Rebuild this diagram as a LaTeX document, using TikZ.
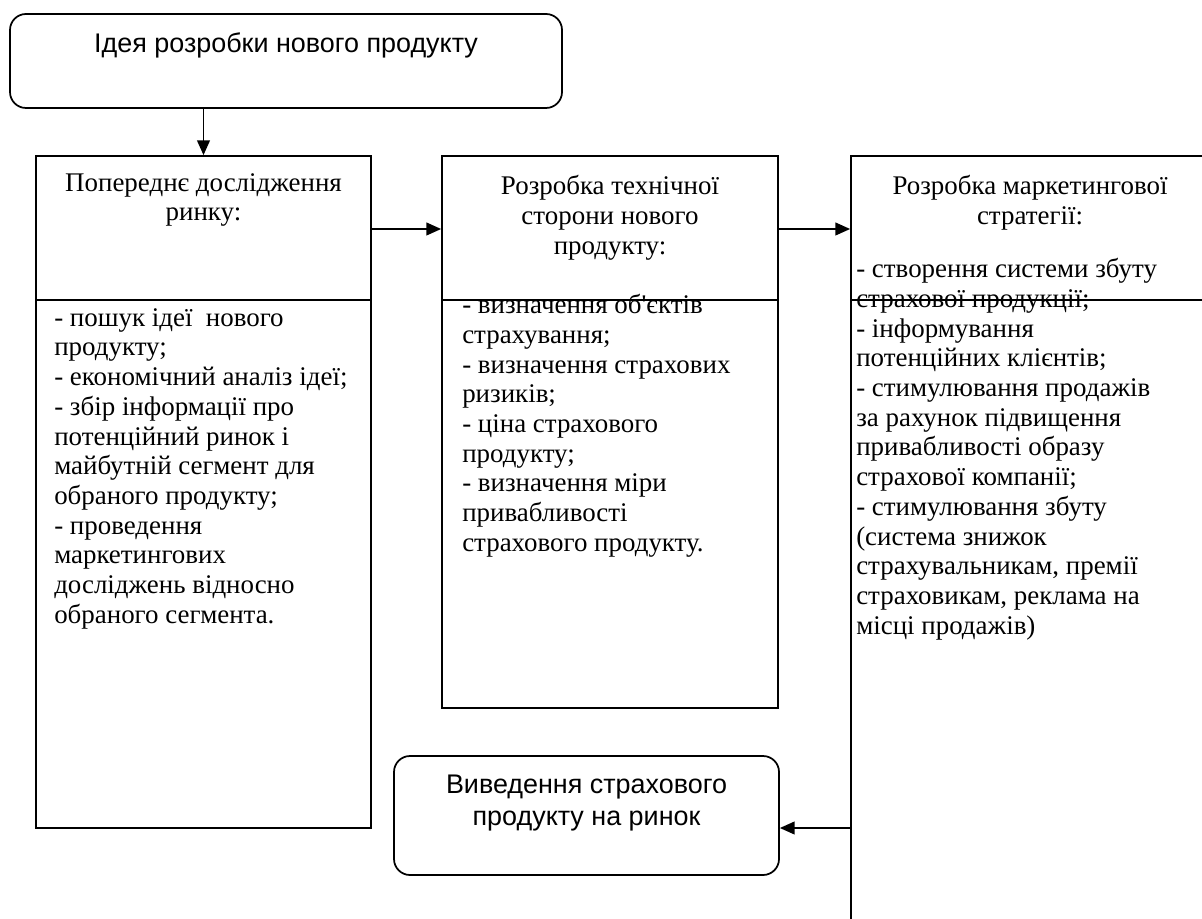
\documentclass[tikz,border=0pt]{standalone}
\usepackage{fontspec}
\setmainfont{Liberation Serif}
\setsansfont{Liberation Sans}
\usetikzlibrary{arrows.meta,fit}
\begin{document}
\begin{tikzpicture}[x=0.75pt,y=-0.75pt,
  boxframe/.style={draw, line width=1.3pt, inner sep=0pt, rectangle},
  roundframe/.style={draw, line width=1.3pt, inner sep=0pt, rounded corners=12pt},
  arr/.style={-{Triangle[length=11pt,width=9.5pt]}, line width=1.3pt},
  divline/.style={line width=1.3pt},
  sertxt/.style={inner sep=0pt, font=\fontsize{20.2}{22.3}\selectfont},
  santxt/.style={inner sep=0pt, align=center, font=\sffamily\fontsize{20.2}{23.5}\selectfont}]
\useasboundingbox (0,0) rectangle (1202,919);
\clip (0,0) rectangle (1202,919);
% frames
\node[roundframe, fit={(10,14) (562,108)}] (idea) {};
\node[boxframe, fit={(36,156) (371,828)}] (b1) {};
\node[boxframe, fit={(442,156) (778,708)}] (b2) {};
\node[boxframe, fit={(851,156) (1215,935)}] (b3) {};
\node[roundframe, fit={(394,756) (779,875)}] (out) {};
% dividers
\draw[divline] (b1.west |- 0,300) -- (b1.east |- 0,300);
\draw[divline] (b2.west |- 0,300) -- (b2.east |- 0,300);
\draw[divline] (b3.west |- 0,300) -- (b3.east |- 0,300);
% texts
\node[santxt, anchor=base] (ideat) at (286,53) {Ідея розробки нового продукту};
\node[santxt, anchor=north] (outt) at (586.5,775) {Виведення страхового\\продукту на ринок};
\node[sertxt, align=center, anchor=north] (t1) at (203.5,173) {Попереднє дослідження\\ринку:};
\node[sertxt, align=left, anchor=north west] (l1) at (54,308) {- пошук ідеї \ нового\\продукту;\\- економічний аналіз ідеї;\\- збір інформації про\\потенційний ринок і\\майбутній сегмент для\\обраного продукту;\\- проведення\\маркетингових\\досліджень відносно\\обраного сегмента.};
\node[sertxt, align=center, anchor=north] (t2) at (610,175) {Розробка технічної\\сторони нового\\продукту:};
\node[sertxt, align=left, anchor=north west] (l2) at (462,294) {- визначення об\textquotesingle єктів\\страхування;\\- визначення страхових\\ризиків;\\- ціна страхового\\продукту;\\- визначення міри\\привабливості\\страхового продукту.};
\node[sertxt, align=center, anchor=north] (t3) at (1030,175) {Розробка маркетингової\\стратегії:};
\node[sertxt, align=left, anchor=north west] (l3) at (856,258) {- створення системи збуту\\страхової продукції;\\- інформування\\потенційних клієнтів;\\- стимулювання продажів\\за рахунок підвищення\\привабливості образу\\страхової компанії;\\- стимулювання збуту\\(система знижок\\страхувальникам, премії\\страховикам, реклама на\\місці продажів)};
% connectors
\draw[arr] (idea.south -| b1.north) -- (b1.north);
\draw[arr] (b1.east |- 0,229) -- (b2.west |- 0,229);
\draw[arr] (b2.east |- 0,229) -- (b3.west |- 0,229);
\draw[arr] (b3.west |- 0,828) -- (out.east |- 0,828);
\end{tikzpicture}
\end{document}
